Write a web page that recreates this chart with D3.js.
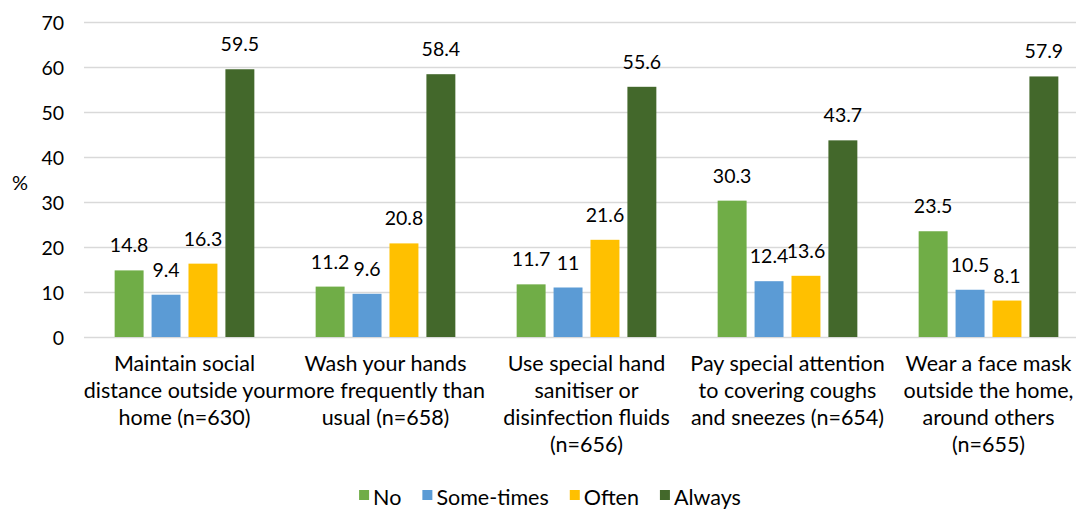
<!DOCTYPE html>
<html>
<head>
<meta charset="utf-8">
<script src="https://cdn.jsdelivr.net/npm/d3@7"></script>
<style>
  html, body { margin: 0; padding: 0; background: #fff; }
  svg { display: block; }
  text { font-family: Lato, "Open Sans", sans-serif; fill: #000; }
</style>
</head>
<body>
<svg id="chart" width="1076" height="511"></svg>
<script>
const categories = [
  ["Maintain social", "distance outside your", "home (n=630)"],
  ["Wash your hands", "more frequently than", "usual (n=658)"],
  ["Use special hand", "sanitiser or", "disinfection fluids", "(n=656)"],
  ["Pay special attention", "to covering coughs", "and sneezes (n=654)"],
  ["Wear a face mask", "outside the home,", "around others", "(n=655)"]
];
const seriesNames = ["No", "Some-times", "Often", "Always"];
const seriesColors = ["#70ad47", "#5b9bd5", "#ffc000", "#43682b"];
const noValues = [14.8, 11.2, 11.7, 30.3, 23.5];
const sometimesValues = [9.4, 9.6, 11, 12.4, 10.5];
const oftenValues = [16.3, 20.8, 21.6, 13.6, 8.1];
const alwaysValues = [59.5, 58.4, 55.6, 43.7, 57.9];
const yTicks = [0, 10, 20, 30, 40, 50, 60, 70];
const yAxisLabel = "%";

const seriesValues = [noValues, sometimesValues, oftenValues, alwaysValues];

const svg = d3.select("#chart");
const plotLeft = 84, plotRight = 1089, plotTop = 22, plotBottom = 337;

const x0 = d3.scaleBand()
  .domain(d3.range(categories.length))
  .range([plotLeft, plotRight])
  .paddingInner(0.305)
  .paddingOuter(0.1525);

const x1 = d3.scaleBand()
  .domain(d3.range(seriesNames.length))
  .range([0, x0.bandwidth()])
  .paddingInner(0.216)
  .paddingOuter(0);

const y = d3.scaleLinear().domain([0, 70]).range([plotBottom, plotTop]);

// gridlines
svg.append("g")
  .selectAll("line")
  .data(yTicks)
  .join("line")
  .attr("x1", plotLeft)
  .attr("x2", plotRight)
  .attr("y1", d => Math.round(y(d)) + 0.5)
  .attr("y2", d => Math.round(y(d)) + 0.5)
  .attr("stroke", "#d9d9d9")
  .attr("stroke-width", 1.3);

// y axis labels
const yAxis = d3.axisLeft(y).tickValues(yTicks).tickSize(0).tickPadding(0);
const yg = svg.append("g").attr("transform", `translate(${plotLeft - 20},0)`).call(yAxis);
yg.select(".domain").remove();
yg.selectAll("text")
  .attr("font-family", "Lato, 'Open Sans', sans-serif")
  .attr("font-size", 19.5)
  .attr("fill", "#000")
  .attr("dy", "0.36em");

svg.append("text")
  .attr("x", 20)
  .attr("y", 183)
  .attr("text-anchor", "middle")
  .attr("dy", "0.35em")
  .attr("font-size", 20)
  .text(yAxisLabel);

// bars
const groups = svg.append("g")
  .selectAll("g")
  .data(categories.map((c, i) => i))
  .join("g")
  .attr("transform", i => `translate(${x0(i)},0)`);

groups.selectAll("rect")
  .data(i => seriesValues.map((vals, s) => ({ s, v: vals[i] })))
  .join("rect")
  .attr("x", d => x1(d.s))
  .attr("width", x1.bandwidth())
  .attr("y", d => y(d.v))
  .attr("height", d => y(0) - y(d.v))
  .attr("fill", d => seriesColors[d.s]);

groups.selectAll("text.val")
  .data(i => seriesValues.map((vals, s) => ({ s, v: vals[i] })))
  .join("text")
  .attr("class", "val")
  .attr("x", d => x1(d.s) + x1.bandwidth() / 2)
  .attr("y", d => y(d.v) - 18)
  .attr("text-anchor", "middle")
  .attr("font-size", 19.5)
  .text(d => d.v);

// category labels
const catG = svg.append("g");
categories.forEach((lines, i) => {
  const t = catG.append("text")
    .attr("text-anchor", "middle")
    .attr("font-size", 21.5);
  lines.forEach((ln, k) => {
    t.append("tspan")
      .attr("x", x0(i) + x0.bandwidth() / 2)
      .attr("y", 363 + k * 27)
      .attr("dy", "0.35em")
      .text(ln);
  });
});

// legend
const legend = svg.append("g");
let lx = 0;
const gap = 21;
seriesNames.forEach((name, s) => {
  const g = legend.append("g");
  g.append("rect")
    .attr("x", 0).attr("y", -15)
    .attr("width", 10).attr("height", 10)
    .attr("fill", seriesColors[s]);
  const t = g.append("text")
    .attr("x", 14).attr("y", 0)
    .attr("font-size", 21.5)
    .text(name);
  const w = t.node().getComputedTextLength();
  g.attr("transform", `translate(${lx},0)`);
  lx += 14 + w + gap;
});
const totalW = lx - gap;
legend.attr("transform", `translate(${550 - totalW / 2},505)`);
</script>
</body>
</html>
